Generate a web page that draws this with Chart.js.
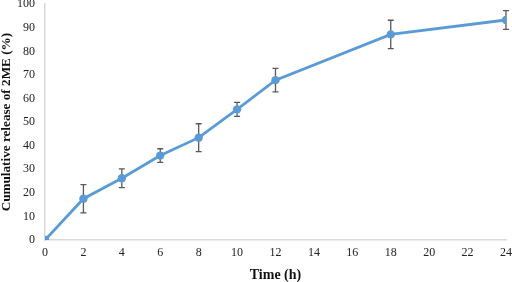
<!DOCTYPE html>
<html>
<head>
<meta charset="utf-8">
<script src="https://cdn.jsdelivr.net/npm/chart.js@4"></script>
<style>
  html, body { margin: 0; padding: 0; background: #fff; }
  #wrap { width: 512px; height: 282px; }
</style>
</head>
<body>
<div id="wrap"><canvas id="graf"></canvas></div>
<script>
// dados
const tempos = [0, 2, 4, 6, 8, 10, 12, 18, 24];
const liberacao = [0, 17.5, 26.2, 35.8, 43.4, 55.4, 67.8, 87.2, 93.3];
const desvio = [0, 6, 4, 2.9, 5.9, 3, 5, 6, 4];
const ticksX = [0, 2, 4, 6, 8, 10, 12, 14, 16, 18, 20, 22, 24];

// barras de erro desenhadas com as escalas do Chart.js
const barrasErro = {
  id: "barrasErro",
  beforeDatasetsDraw(chart) {
    const { ctx, scales: { x, y } } = chart;
    ctx.save();
    ctx.strokeStyle = "#595959";
    ctx.lineWidth = 1.3;
    tempos.forEach((t, i) => {
      if (!desvio[i]) return;
      const px = x.getPixelForValue(t);
      const top = y.getPixelForValue(liberacao[i] + desvio[i]);
      const bot = y.getPixelForValue(liberacao[i] - desvio[i]);
      ctx.beginPath();
      ctx.moveTo(px, top); ctx.lineTo(px, bot);
      ctx.moveTo(px - 3, top); ctx.lineTo(px + 3, top);
      ctx.moveTo(px - 3, bot); ctx.lineTo(px + 3, bot);
      ctx.stroke();
    });
    ctx.restore();
  }
};

const fonte = "'Liberation Serif', 'Times New Roman', serif";

new Chart(document.getElementById("graf"), {
  type: "line",
  data: {
    datasets: [{
      label: "Liberação",
      data: tempos.map((t, i) => ({ x: t, y: liberacao[i] })),
      borderColor: "#5B9BD5",
      backgroundColor: "#5B9BD5",
      borderWidth: 2.8,
      pointRadius: 4.2,
      pointBorderWidth: 0,
      tension: 0
    }]
  },
  options: {
    responsive: true,
    maintainAspectRatio: false,
    animation: false,
    layout: { padding: { top: 4, right: 6, left: 0, bottom: 0 } },
    plugins: { legend: { display: false }, tooltip: { enabled: false } },
    scales: {
      x: {
        type: "linear",
        min: 0, max: 24,
        afterBuildTicks: s => { s.ticks = ticksX.map(v => ({ value: v })); },
        afterFit: s => { s.height = 42; s.paddingRight = 0; s.paddingLeft = 0; },
        grid: { display: false, drawTicks: false },
        border: { display: true, color: "#d9d9d9", width: 1.5 },
        ticks: { color: "#222", padding: 6, font: { family: fonte, size: 12 }, maxRotation: 0 },
        title: { display: true, text: "Time (h)", color: "#111", padding: { top: 0, bottom: 0 },
                 font: { family: fonte, size: 14, weight: "bold", lineHeight: 1 } }
      },
      y: {
        min: 0, max: 100,
        ticks: { stepSize: 10, color: "#222", padding: 10, font: { family: fonte, size: 12 } },
        afterFit: s => { s.width = 45; s.paddingTop = 0; s.paddingBottom = 0; },
        grid: { display: false, drawTicks: false },
        border: { display: true, color: "#d9d9d9", width: 1.5 },
        title: { display: true, text: "Cumulative release of 2ME (%)", color: "#111", padding: { top: 0, bottom: 0 },
                 font: { family: fonte, size: 13.2, weight: "bold", lineHeight: 1 } }
      }
    }
  },
  plugins: [barrasErro]
});
</script>
</body>
</html>
